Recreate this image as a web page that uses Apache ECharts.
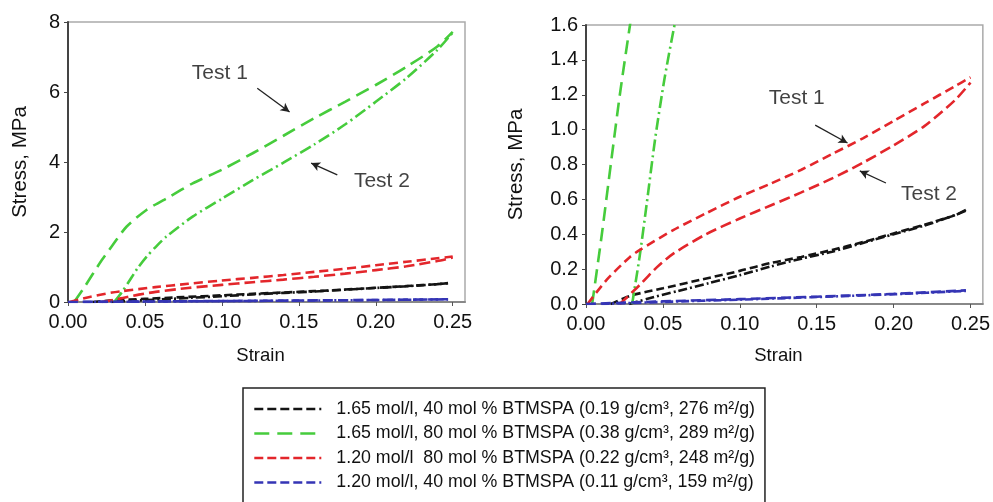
<!DOCTYPE html>
<html><head><meta charset="utf-8">
<script src="https://cdn.jsdelivr.net/npm/echarts@6/dist/echarts.min.js"></script>
<style>html,body{margin:0;padding:0;background:#fff}#c{width:993px;height:502px}</style>
</head><body><div id="c"></div>
<script>
// ---------- data (strain, stress MPa) ----------
const legendNames = [
  '1.65 mol/l, 40 mol % BTMSPA (0.19 g/cm³, 276 m²/g)',
  '1.65 mol/l, 80 mol % BTMSPA (0.38 g/cm³, 289 m²/g)',
  '1.20 mol/l  80 mol % BTMSPA (0.22 g/cm³, 248 m²/g)',
  '1.20 mol/l, 40 mol % BTMSPA (0.11 g/cm³, 159 m²/g)'
];
const black1 = [[0.016,0],[0.03,0.05],[0.05,0.09],[0.075,0.14],[0.10,0.19],[0.12,0.235],[0.14,0.27],[0.16,0.31],[0.18,0.355],[0.20,0.405],[0.22,0.455],[0.24,0.51],[0.247,0.54]];
const black2 = [[0.028,0],[0.04,0.03],[0.06,0.075],[0.08,0.12],[0.10,0.165],[0.12,0.215],[0.14,0.26],[0.16,0.30],[0.18,0.35],[0.20,0.40],[0.22,0.45],[0.24,0.51],[0.247,0.535]];
const green1 = [[0.004,0],[0.01,0.38],[0.0164,0.82],[0.022,1.2],[0.0286,1.6],[0.038,2.15],[0.051,2.63],[0.066,3.01],[0.081,3.39],[0.10,3.78],[0.12,4.25],[0.14,4.75],[0.16,5.25],[0.18,5.72],[0.20,6.2],[0.22,6.72],[0.24,7.3],[0.25,7.72]];
const green2 = [[0.030,0],[0.035,0.28],[0.0394,0.57],[0.045,0.95],[0.051,1.29],[0.058,1.62],[0.064,1.87],[0.081,2.44],[0.10,2.95],[0.12,3.48],[0.14,3.98],[0.16,4.5],[0.18,5.07],[0.20,5.72],[0.22,6.4],[0.24,7.2],[0.25,7.7]];
const red1 = [[0.001,0],[0.0134,0.138],[0.0286,0.27],[0.035,0.31],[0.0567,0.424],[0.078,0.52],[0.10,0.615],[0.12,0.69],[0.14,0.77],[0.16,0.86],[0.18,0.95],[0.20,1.05],[0.22,1.15],[0.24,1.25],[0.25,1.30]];
const red2 = [[0.022,0],[0.035,0.11],[0.046,0.21],[0.057,0.29],[0.078,0.40],[0.10,0.49],[0.12,0.565],[0.14,0.64],[0.16,0.72],[0.18,0.81],[0.20,0.91],[0.22,1.02],[0.24,1.17],[0.25,1.27]];
const blue1 = [[0,0],[0.05,0.015],[0.10,0.028],[0.15,0.042],[0.20,0.058],[0.247,0.078]];
const blue2 = [[0.01,0],[0.05,0.012],[0.10,0.025],[0.15,0.04],[0.20,0.056],[0.247,0.075]];
const xTickLabels = ['0.00','0.05','0.10','0.15','0.20','0.25'];
const leftYTickLabels = ['0','2','4','6','8'];
const rightYTickLabels = ['0.0','0.2','0.4','0.6','0.8','1.0','1.2','1.4','1.6'];
// annotations (data coordinates)
const leftNotes = [[0.0987,6.54,'Test 1'],[0.204,3.46,'Test 2']];
const leftArrows = [[[0.123,6.11],[0.144,5.43]],[[0.175,3.63],[0.158,3.97]]];
const rightNotes = [[0.137,1.181,'Test 1'],[0.223,0.631,'Test 2']];
const rightArrows = [[[0.149,1.026],[0.170,0.923]],[[0.195,0.694],[0.178,0.763]]];

// ---------- styles ----------
const FONT = 'Liberation Sans, Arial, sans-serif';
const groups = [
  {name: legendNames[0], color:'#141414', d1: black1, d2: black2, dash1:[8,4], dash2:[9,3,2,3], legendDash:[9,4]},
  {name: legendNames[1], color:'#46cc3c', d1: green1, d2: green2, dash1:[14,7], dash2:[12,4,2,4], legendDash:[15,8]},
  {name: legendNames[2], color:'#e3262b', d1: red1, d2: red2, dash1:[9,5], dash2:[11,5], legendDash:[9,4]},
  {name: legendNames[3], color:'#3535b5', d1: blue1, d2: blue2, dash1:[10,5], dash2:[8,3,2,3], legendDash:[9,4]}
];

const series = [];
[0,1].forEach(gi => {
  groups.forEach(g => {
    series.push({type:'line', name:g.name, xAxisIndex:gi, yAxisIndex:gi, data:g.d1, showSymbol:false, symbol:'none',
      smooth:0.25, clip:true, lineStyle:{color:g.color, width:2.6, type:g.dash1}, itemStyle:{color:g.color}, silent:true});
    series.push({type:'line', name:g.name + ' – Test 2', xAxisIndex:gi, yAxisIndex:gi, data:g.d2, showSymbol:false, symbol:'none',
      smooth:0.25, clip:true, lineStyle:{color:g.color, width:2.6, type:g.dash2}, itemStyle:{color:g.color}, silent:true});
  });
  const notes = gi === 0 ? leftNotes : rightNotes;
  const arrows = gi === 0 ? leftArrows : rightArrows;
  series.push({type:'scatter', name:'notes'+gi, xAxisIndex:gi, yAxisIndex:gi, data:notes, symbolSize:1,
    itemStyle:{color:'rgba(0,0,0,0)'}, silent:true,
    label:{show:true, position:'inside', formatter:p=>p.value[2], color:'#111', fontSize:21, fontFamily:FONT},
    markLine:{silent:true, symbol:['none','arrow'], symbolSize:[7,9], label:{show:false},
      lineStyle:{color:'#222', width:1.3, type:'solid'},
      data: arrows.map(a => [{coord:a[0]},{coord:a[1]}])}
  });
});

function xFmt(v){ const i = Math.round(v/0.05); return Math.abs(v - i*0.05) < 1e-6 ? xTickLabels[i] : ''; }
function yFmtL(v){ const i = Math.round(v/2); return Math.abs(v - i*2) < 1e-6 ? leftYTickLabels[i] : ''; }
function yFmtR(v){ const i = Math.round(v/0.2); return Math.abs(v - i*0.2) < 1e-6 ? rightYTickLabels[i] : ''; }

const axisLabelBase = {color:'#111', fontSize:20, fontFamily:FONT};
function xAxis(gi){
  return {type:'value', gridIndex:gi, min:0, max:0.258, interval:0.05,
    name:'Strain', nameLocation:'middle', nameGap: gi===0?44:42,
    nameTextStyle:{color:'#111', fontSize:18.5, fontFamily:FONT, padding:[0,12,0,0]},
    axisLine:{show:true, lineStyle:{color:'#888', width:2}},
    axisTick:{show:true, inside:false, length:4, lineStyle:{color:'#555'}},
    axisLabel:Object.assign({margin:10, formatter:xFmt, showMaxLabel:false}, axisLabelBase),
    splitLine:{show:false}};
}
function yAxis(gi){
  return {type:'value', gridIndex:gi, min:0, max: gi===0?8:1.6, interval: gi===0?2:0.2,
    name:'Stress, MPa', nameLocation:'middle', nameGap: gi===0?37:59,
    nameTextStyle:{color:'#111', fontSize:20.5, fontFamily:FONT},
    axisLine:{show:true, lineStyle:{color:'#444', width:2}},
    axisTick:{show:true, inside:false, length:4, lineStyle:{color:'#444'}},
    axisLabel:Object.assign({margin:8, formatter: gi===0?yFmtL:yFmtR}, axisLabelBase),
    splitLine:{show:false}};
}

const chart = echarts.init(document.getElementById('c'), null, {renderer:'canvas'});
chart.setOption({
  backgroundColor:'#ffffff',
  animation:false,
  grid:[
    {left:68, top:22, width:397, height:280, show:true, borderColor:'#aaa', borderWidth:1.5, backgroundColor:'transparent'},
    {left:586, top:25, width:397, height:279, show:true, borderColor:'#aaa', borderWidth:1.5, backgroundColor:'transparent'}
  ],
  xAxis:[xAxis(0), xAxis(1)],
  yAxis:[yAxis(0), yAxis(1)],
  legend:{
    type:'plain', orient:'vertical', left:243, top:388, height:110,
    padding:[12,10,40,10], itemGap:6.5, itemWidth:67, itemHeight:14,
    backgroundColor:'#fff', borderColor:'#222', borderWidth:1.5, borderRadius:0,
    selectedMode:false,
    textStyle:{color:'#111', fontSize:17.8, fontFamily:FONT, lineHeight:18, padding:[0,0,0,10]},
    data: groups.map(g => ({name:g.name, itemStyle:{opacity:0},
      lineStyle:{color:g.color, width:2.6, type:g.legendDash}}))
  },
  series: series
});
</script></body></html>
